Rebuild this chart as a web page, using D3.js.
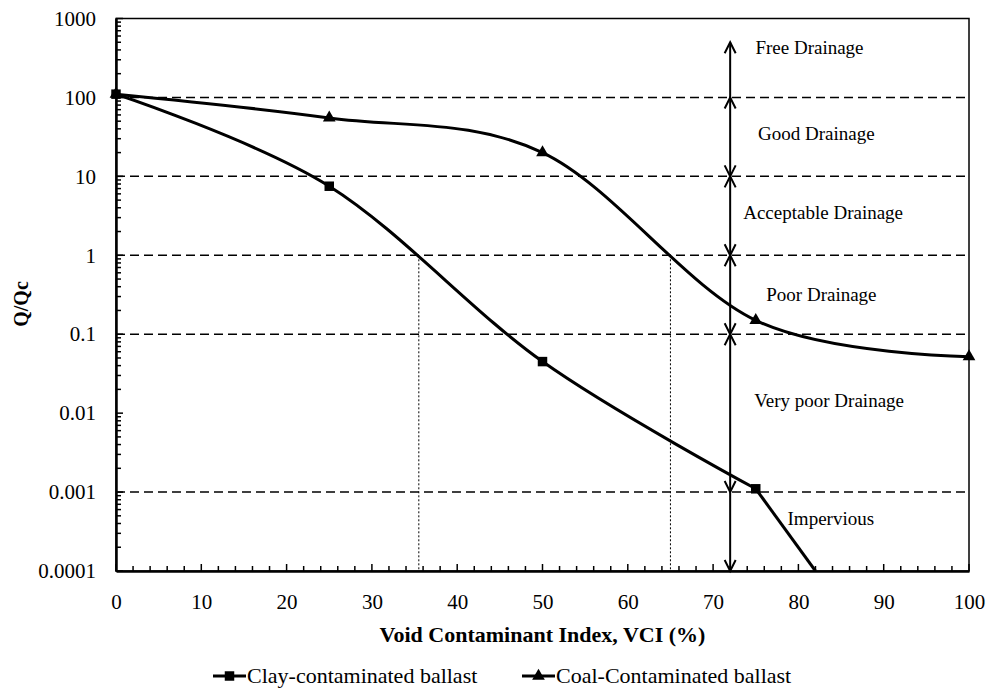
<!DOCTYPE html>
<html>
<head>
<meta charset="utf-8">
<script src="https://cdn.jsdelivr.net/npm/d3@7"></script>
<style>
  body { margin: 0; background: #fff; }
  svg text { font-family: 'Liberation Serif', 'Times New Roman', Times, serif; fill: #000; }
</style>
</head>
<body>
<svg id="chart" width="988" height="690"></svg>
<script>
// ---- Data ----
const clayVCI = [0, 25, 50, 75];
const clayQ = [110, 7.5, 0.045, 0.0011];
// straight run-out of the clay curve down to the axis floor
const clayTailVCI = [75, 82];
const clayTailQ = [0.0011, 0.0001];

const coalVCI = [0, 25, 50, 75, 100];
const coalQ = [110, 55, 20, 0.15, 0.052];

const xTickValues = [0, 10, 20, 30, 40, 50, 60, 70, 80, 90, 100];
const yTickValues = [0.0001, 0.001, 0.01, 0.1, 1, 10, 100, 1000];
const yTickLabels = ["0.0001", "0.001", "0.01", "0.1", "1", "10", "100", "1000"];

// drainage class boundaries (dashed) and VCI at Q/Qc = 1 (dotted)
const boundaryQ = [100, 10, 1, 0.1, 0.001];
const thresholdVCI = [35.5, 65];
const thresholdQ = [1, 1];

// drainage classes shown by arrows at VCI = 72
const arrowVCI = 72;
const zoneNames = ["Free Drainage", "Good Drainage", "Acceptable Drainage", "Poor Drainage", "Very poor Drainage", "Impervious"];
const zoneLow = [100, 10, 1, 0.1, 0.001, 0.0001];
const zoneHigh = [500, 100, 10, 1, 0.1, 0.001];
const zoneHeadUp = [true, true, true, true, true, false];
const zoneHeadDown = [false, true, true, true, true, true];
const zoneLabelVCI = [81.3, 82.1, 82.9, 82.7, 83.6, 83.8];
const zoneLabelQ = [350, 29, 2.9, 0.26, 0.012, 0.00038];

const seriesNames = ["Clay-contaminated ballast", "Coal-Contaminated ballast"];

// ---- Layout ----
const FONT = "'Liberation Serif', 'Times New Roman', Times, serif";
const svg = d3.select("#chart");
const plot = { left: 116, right: 969, top: 18.5, bottom: 571 };

const x = d3.scaleLinear().domain([0, 100]).range([plot.left, plot.right]);
const y = d3.scaleLog().domain([0.0001, 1000]).range([plot.bottom, plot.top]);

svg.append("defs").append("clipPath").attr("id", "plotClip")
  .append("rect")
  .attr("x", plot.left).attr("y", plot.top)
  .attr("width", plot.right - plot.left).attr("height", plot.bottom - plot.top);

// frame
svg.append("rect")
  .attr("x", plot.left).attr("y", plot.top)
  .attr("width", plot.right - plot.left).attr("height", plot.bottom - plot.top)
  .attr("fill", "none").attr("stroke", "#000").attr("stroke-width", 1.5);

// dashed class boundaries
svg.append("g").selectAll("line").data(boundaryQ).join("line")
  .attr("x1", x(0)).attr("x2", x(100))
  .attr("y1", d => y(d)).attr("y2", d => y(d))
  .attr("stroke", "#000").attr("stroke-width", 1.5)
  .attr("stroke-dasharray", "9,5");

// dotted verticals at Q/Qc = 1
svg.append("g").selectAll("line").data(thresholdVCI).join("line")
  .attr("x1", d => x(d)).attr("x2", d => x(d))
  .attr("y1", (d, i) => y(thresholdQ[i])).attr("y2", y(0.0001))
  .attr("stroke", "#000").attr("stroke-width", 1)
  .attr("stroke-dasharray", "2,2");

// ---- Axes ----
const yAxis = d3.axisLeft(y).tickValues(yTickValues)
  .tickFormat((d, i) => yTickLabels[i]).tickSize(0).tickPadding(20);
const gy = svg.append("g").attr("transform", `translate(${plot.left},0)`).call(yAxis)
  .attr("font-family", FONT).attr("font-size", 21);
gy.select(".domain").attr("stroke-width", 2.5);
gy.selectAll("text").style("font-family", FONT).style("font-size", "21px");

// y minor ticks pointing inward
const yMinor = [];
for (let e = -4; e < 3; e++) for (let m = 1; m <= 9; m++) yMinor.push(m * Math.pow(10, e));
yMinor.push(1000);
svg.append("g").selectAll("line").data(yMinor).join("line")
  .attr("x1", plot.left).attr("x2", d => plot.left + (yTickValues.includes(d) ? 7 : 5))
  .attr("y1", d => y(d)).attr("y2", d => y(d))
  .attr("stroke", "#000").attr("stroke-width", 1.5);

const xAxis = d3.axisBottom(x).tickValues(xTickValues).tickFormat(d3.format("d"))
  .tickSize(0).tickPadding(23);
const gx = svg.append("g").attr("transform", `translate(0,${plot.bottom})`).call(xAxis)
  .attr("font-family", FONT).attr("font-size", 21);
gx.select(".domain").attr("stroke-width", 2.5);
gx.selectAll("text").style("font-family", FONT).style("font-size", "21px");

// x ticks every 2 units, pointing inward
svg.append("g").selectAll("line").data(d3.range(0, 101, 2)).join("line")
  .attr("x1", d => x(d)).attr("x2", d => x(d))
  .attr("y1", plot.bottom).attr("y2", d => plot.bottom - (d % 10 === 0 ? 7 : 5))
  .attr("stroke", "#000").attr("stroke-width", 1.5);

// axis titles
svg.append("text")
  .attr("x", (plot.left + plot.right) / 2).attr("y", 642)
  .attr("text-anchor", "middle").style("font-family", FONT)
  .style("font-size", "22px").style("font-weight", "bold")
  .text("Void Contaminant Index, VCI (%)");

svg.append("text")
  .attr("transform", `translate(28,304) rotate(-90)`)
  .attr("text-anchor", "middle").style("font-family", FONT)
  .style("font-size", "20px").style("font-weight", "bold")
  .text("Q/Qc");

// ---- Drainage class arrows ----
const arrows = svg.append("g").attr("stroke", "#000").attr("stroke-width", 2).attr("fill", "none");
zoneNames.forEach((name, i) => {
  const ax = x(arrowVCI);
  const yTop = y(zoneHigh[i]);
  const yBot = y(zoneLow[i]);
  arrows.append("line").attr("x1", ax).attr("x2", ax).attr("y1", yTop).attr("y2", yBot);
  if (zoneHeadUp[i]) {
    arrows.append("path").attr("d", `M${ax - 5.5},${yTop + 11}L${ax},${yTop}L${ax + 5.5},${yTop + 11}`);
  }
  if (zoneHeadDown[i]) {
    arrows.append("path").attr("d", `M${ax - 5.5},${yBot - 11}L${ax},${yBot}L${ax + 5.5},${yBot - 11}`);
  }
  svg.append("text")
    .attr("x", x(zoneLabelVCI[i])).attr("y", y(zoneLabelQ[i]))
    .attr("text-anchor", "middle").style("font-family", FONT).style("font-size", "19px")
    .text(name);
});

// ---- Series ----
const line = d3.line()
  .x(d => x(d[0])).y(d => y(d[1]))
  .curve(d3.curveCardinal.tension(0));
const straight = d3.line().x(d => x(d[0])).y(d => y(d[1]));

const clayPts = clayVCI.map((v, i) => [v, clayQ[i]]);
const clayTailPts = clayTailVCI.map((v, i) => [v, clayTailQ[i]]);
const coalPts = coalVCI.map((v, i) => [v, coalQ[i]]);

const series = svg.append("g").attr("clip-path", "url(#plotClip)");
series.append("path").attr("d", line(clayPts))
  .attr("fill", "none").attr("stroke", "#000").attr("stroke-width", 3);
series.append("path").attr("d", straight(clayTailPts))
  .attr("fill", "none").attr("stroke", "#000").attr("stroke-width", 3);
series.append("path").attr("d", line(coalPts))
  .attr("fill", "none").attr("stroke", "#000").attr("stroke-width", 3);

const squareSym = d3.symbol().type(d3.symbolSquare).size(90);
const triSym = d3.symbol().type(d3.symbolTriangle).size(70);

svg.append("g").selectAll("path").data(clayPts).join("path")
  .attr("transform", d => `translate(${x(d[0])},${y(d[1])})`)
  .attr("d", squareSym).attr("fill", "#000");
svg.append("g").selectAll("path").data(coalPts).join("path")
  .attr("transform", d => `translate(${x(d[0])},${y(d[1])})`)
  .attr("d", triSym).attr("fill", "#000");

// ---- Legend ----
const legendY = 676;
const legendX = [213, 522];
const legendSyms = [squareSym, triSym];
seriesNames.forEach((name, i) => {
  const g = svg.append("g").attr("transform", `translate(${legendX[i]},${legendY})`);
  g.append("line").attr("x1", 0).attr("x2", 33).attr("y1", 0).attr("y2", 0)
    .attr("stroke", "#000").attr("stroke-width", 3);
  g.append("path").attr("transform", "translate(16.5,0)").attr("d", legendSyms[i]).attr("fill", "#000");
  g.append("text").attr("x", 34).attr("y", 7).style("font-family", FONT).style("font-size", "22px").text(name);
});
</script>
</body>
</html>
